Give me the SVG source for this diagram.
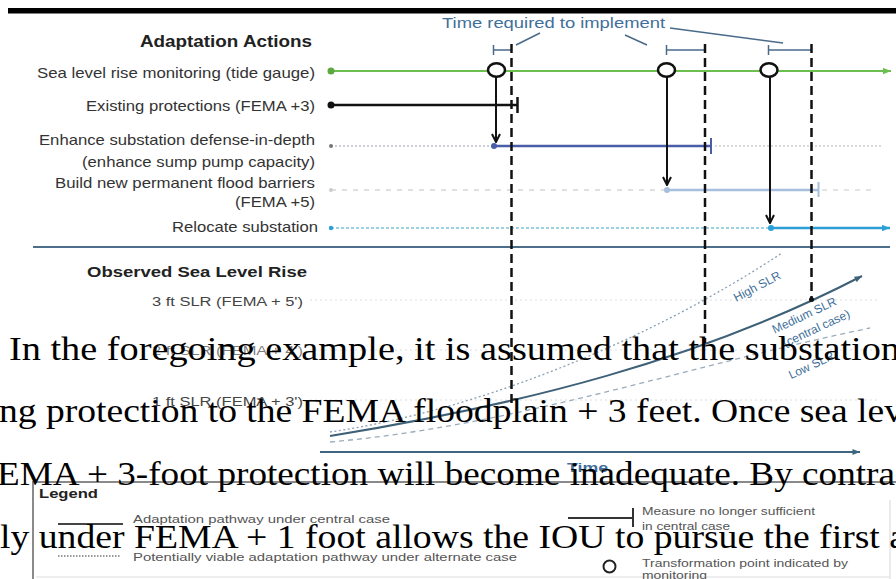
<svg xmlns="http://www.w3.org/2000/svg" width="896" height="579" viewBox="0 0 896 579">
<style>
.lbl{font-family:"Liberation Sans",Arial,sans-serif;font-size:15px;fill:#333}
.hd{font-family:"Liberation Sans",Arial,sans-serif;font-weight:bold;fill:#222}
.slr{font-family:"Liberation Sans",Arial,sans-serif;font-size:12.5px;fill:#444}
.blu{font-family:"Liberation Sans",Arial,sans-serif;fill:#3f6f9a}
.lg{font-family:"Liberation Sans",Arial,sans-serif;font-size:11px;fill:#555}
.body{font-family:"Liberation Serif","Times New Roman",serif;font-size:34px;fill:#000}
.vdash{stroke:#111;stroke-width:2.5;stroke-dasharray:9 5;fill:none}
.down{stroke:#111;stroke-width:2;fill:none}
.tp{fill:#fff;stroke:#111;stroke-width:2.5}
.brk{stroke:#4a6a8a;stroke-width:1.5;fill:none}
.guide{stroke:#ddd;stroke-width:1;stroke-dasharray:2 3}
</style>
<defs>
<marker id="chev" viewBox="0 0 10 10" refX="9" refY="5" markerWidth="10" markerHeight="10" markerUnits="userSpaceOnUse" orient="auto">
<path d="M1,1 L9,5 L1,9" fill="none" stroke="#111" stroke-width="2"/>
</marker>
<marker id="arGreen" viewBox="0 0 10 8" refX="10" refY="4" markerWidth="8" markerHeight="7" markerUnits="userSpaceOnUse" orient="auto">
<path d="M0,0 L10,4 L0,8 z" fill="#6cbf4e"/>
</marker>
<marker id="arCyan" viewBox="0 0 10 8" refX="10" refY="4" markerWidth="8" markerHeight="7" markerUnits="userSpaceOnUse" orient="auto">
<path d="M0,0 L10,4 L0,8 z" fill="#2b9fd6"/>
</marker>
<marker id="arAxis" viewBox="0 0 10 8" refX="10" refY="4" markerWidth="8" markerHeight="6" markerUnits="userSpaceOnUse" orient="auto">
<path d="M0,0 L10,4 L0,8 z" fill="#3f6480"/>
</marker>
<marker id="arMed" viewBox="0 0 10 8" refX="10" refY="4" markerWidth="8" markerHeight="6" markerUnits="userSpaceOnUse" orient="auto">
<path d="M0,0 L10,4 L0,8 z" fill="#3e6177"/>
</marker>
</defs>
<rect width="896" height="579" fill="#fff"/>
<rect x="8" y="8" width="888" height="5.5" fill="#000"/>

<g id="title-actions">
<text class="hd" x="140" y="46.5" font-size="16" textLength="172" lengthAdjust="spacingAndGlyphs">Adaptation Actions</text>
</g>

<g id="time-required">
<text class="blu" x="442" y="28" font-size="15" textLength="223" lengthAdjust="spacingAndGlyphs">Time required to implement</text>
<path class="brk" d="M540,33 L516,45 M625,35 L647,45 M670,28 L783,43"/>
<path class="brk" d="M493.5,50 H511.5 M493.5,45 V55 M666.5,50 H705 M666.5,45 V55 M768.5,50 H811.5 M768.5,45 V55"/>
</g>

<g id="row-monitoring">
<text class="lbl" x="37" y="77.5" textLength="278" lengthAdjust="spacingAndGlyphs">Sea level rise monitoring (tide gauge)</text>
<line x1="331" y1="71" x2="891" y2="71" stroke="#6cbf4e" stroke-width="2" marker-end="url(#arGreen)"/>
<circle cx="331" cy="71" r="3.5" fill="#5aa83e"/>
</g>

<g id="row-existing">
<text class="lbl" x="86" y="110.5" textLength="229" lengthAdjust="spacingAndGlyphs">Existing protections (FEMA +3)</text>
<line x1="331" y1="105" x2="517" y2="105" stroke="#111" stroke-width="2.5"/>
<line x1="517.5" y1="97" x2="517.5" y2="113" stroke="#111" stroke-width="2.5"/>
<circle cx="331" cy="105" r="3.5" fill="#111"/>
</g>

<g id="row-enhance">
<text class="lbl" x="39" y="145" textLength="276" lengthAdjust="spacingAndGlyphs">Enhance substation defense-in-depth</text>
<text class="lbl" x="82" y="166.5" textLength="233" lengthAdjust="spacingAndGlyphs">(enhance sump pump capacity)</text>
<line x1="331" y1="146" x2="493" y2="146" stroke="#9a9aa6" stroke-width="1.2" stroke-dasharray="2 2"/>
<line x1="715" y1="146" x2="883" y2="146" stroke="#b8b8c0" stroke-width="1.2" stroke-dasharray="2 2"/>
<line x1="493" y1="146" x2="711" y2="146" stroke="#4a5da8" stroke-width="2.5"/>
<line x1="711" y1="138" x2="711" y2="154" stroke="#4a5da8" stroke-width="2"/>
<circle cx="331" cy="146" r="2" fill="#777"/>
<circle cx="494" cy="146" r="3" fill="#4a5da8"/>
</g>

<g id="row-barriers">
<text class="lbl" x="55" y="188" textLength="260" lengthAdjust="spacingAndGlyphs">Build new permanent flood barriers</text>
<text class="lbl" x="235" y="207" textLength="80" lengthAdjust="spacingAndGlyphs">(FEMA +5)</text>
<line x1="331" y1="190" x2="666" y2="190" stroke="#d6d6d6" stroke-width="1.5" stroke-dasharray="5 6"/>
<line x1="822" y1="190" x2="877" y2="190" stroke="#dcdcdc" stroke-width="1.5" stroke-dasharray="5 6"/>
<line x1="666" y1="190" x2="818" y2="190" stroke="#a8bedd" stroke-width="2.5"/>
<line x1="818.5" y1="182" x2="818.5" y2="197" stroke="#a8bedd" stroke-width="2"/>
<circle cx="331" cy="190" r="2" fill="#ccc"/>
<circle cx="667" cy="190" r="3" fill="#a8bedd"/>
</g>

<g id="row-relocate">
<text class="lbl" x="172" y="232" textLength="146" lengthAdjust="spacingAndGlyphs">Relocate substation</text>
<line x1="331" y1="228" x2="770" y2="228" stroke="#7cc4dc" stroke-width="1.3" stroke-dasharray="3 2"/>
<line x1="770" y1="228" x2="890" y2="228" stroke="#2b9fd6" stroke-width="2.5" marker-end="url(#arCyan)"/>
<circle cx="331" cy="228" r="2.2" fill="#2b9fd6"/>
<circle cx="771" cy="228" r="3" fill="#2b9fd6"/>
</g>

<g id="separator">
<line x1="33" y1="247" x2="890" y2="247" stroke="#4d6f8c" stroke-width="1.8"/>
</g>

<g id="observed-slr">
<text class="hd" x="87" y="277" font-size="15" textLength="220" lengthAdjust="spacingAndGlyphs">Observed Sea Level Rise</text>
<text class="slr" x="152" y="306" textLength="151" lengthAdjust="spacingAndGlyphs">3 ft SLR (FEMA + 5')</text>
<text class="slr" x="152" y="355" textLength="151" lengthAdjust="spacingAndGlyphs" fill-opacity="0.7">2 ft SLR (FEMA + 4')</text>
<text class="slr" x="152" y="406" textLength="151" lengthAdjust="spacingAndGlyphs">1 ft SLR (FEMA + 3')</text>
<line class="guide" x1="310" y1="300" x2="880" y2="300"/>
<line class="guide" x1="310" y1="350" x2="880" y2="350"/>
<line class="guide" x1="310" y1="400" x2="880" y2="400"/>
</g>

<g id="slr-curves">
<path d="M330,432 C480,410 650,340 782,253" fill="none" stroke="#8aa0b5" stroke-width="1.3" stroke-dasharray="2 2.5"/>
<path d="M330,436 C520,405 700,360 862,276" fill="none" stroke="#3e6177" stroke-width="2" marker-end="url(#arMed)"/>
<path d="M330,442 C520,425 690,365 870,328" fill="none" stroke="#9aacbc" stroke-width="1.3" stroke-dasharray="5 4"/>
<text class="blu" font-size="12" transform="translate(759,290) rotate(-28)" text-anchor="middle">High SLR</text>
<text class="blu" font-size="12" transform="translate(806,319) rotate(-25)" text-anchor="middle">Medium SLR</text>
<text class="blu" font-size="12" transform="translate(818,332) rotate(-25)" text-anchor="middle">(central case)</text>
<text class="blu" font-size="12" transform="translate(813,369) rotate(-25)" text-anchor="middle">Low SLR</text>
</g>

<g id="time-axis">
<line x1="320" y1="452" x2="860" y2="452" stroke="#3f6480" stroke-width="2" marker-end="url(#arAxis)"/>
<text class="blu" x="567" y="472" font-size="13" font-weight="bold" textLength="41" lengthAdjust="spacingAndGlyphs">Time</text>
</g>

<g id="connectors">
<line class="vdash" x1="511.5" y1="44" x2="511.5" y2="403"/>
<line class="vdash" x1="705" y1="44" x2="705" y2="343"/>
<line class="vdash" x1="811.5" y1="44" x2="811.5" y2="299"/>
<circle cx="811.5" cy="299.5" r="2.5" fill="#111"/>
<line class="down" x1="496" y1="77" x2="496" y2="142" marker-end="url(#chev)"/>
<line class="down" x1="667" y1="77" x2="667" y2="185" marker-end="url(#chev)"/>
<line class="down" x1="770" y1="77" x2="770" y2="223" marker-end="url(#chev)"/>
</g>

<g id="tp-1"><ellipse class="tp" cx="496.5" cy="70" rx="8.5" ry="6.8"/></g>
<g id="tp-2"><ellipse class="tp" cx="666.5" cy="70" rx="8.5" ry="6.8"/></g>
<g id="tp-3"><ellipse class="tp" cx="769" cy="70" rx="8.5" ry="6.8"/></g>

<g id="legend">
<path d="M33,579 V482 H896" fill="none" stroke="#8a8a8a" stroke-width="2"/>
<line x1="890" y1="500" x2="890" y2="579" stroke="#e4e4e4" stroke-width="1.5"/>
<line x1="36" y1="577" x2="890" y2="577" stroke="#e8e8e8" stroke-width="1.5"/>
<text class="hd" x="39" y="498" font-size="12" fill="#555" textLength="59" lengthAdjust="spacingAndGlyphs">Legend</text>
<line x1="58" y1="524" x2="123" y2="524" stroke="#444" stroke-width="2"/>
<text class="lg" x="133" y="523" textLength="257" lengthAdjust="spacingAndGlyphs">Adaptation pathway under central case</text>
<line x1="58" y1="556" x2="120" y2="556" stroke="#777" stroke-width="1.5" stroke-dasharray="1.5 1.5"/>
<text class="lg" x="133" y="561" textLength="384" lengthAdjust="spacingAndGlyphs">Potentially viable adaptation pathway under alternate case</text>
<line x1="568" y1="518" x2="633" y2="518" stroke="#333" stroke-width="2"/>
<line x1="633" y1="508" x2="633" y2="527" stroke="#333" stroke-width="2"/>
<text class="lg" x="642" y="514.5" textLength="173" lengthAdjust="spacingAndGlyphs">Measure no longer sufficient</text>
<text class="lg" x="642" y="530" textLength="88" lengthAdjust="spacingAndGlyphs">in central case</text>
<circle cx="609.5" cy="566.5" r="6" fill="#fff" stroke="#222" stroke-width="2"/>
<text class="lg" x="642" y="567" textLength="206" lengthAdjust="spacingAndGlyphs">Transformation point indicated by</text>
<text class="lg" x="642" y="578.5" textLength="65" lengthAdjust="spacingAndGlyphs">monitoring</text>
</g>

<g id="page-text">
<text class="body" x="9" y="360" textLength="891" lengthAdjust="spacingAndGlyphs">In the foregoing example, it is assumed that the substation</text>
<text class="body" x="-1" y="422" textLength="904" lengthAdjust="spacingAndGlyphs">ng protection to the FEMA floodplain + 3 feet. Once sea lev</text>
<text class="body" x="-3" y="485" textLength="898" lengthAdjust="spacingAndGlyphs">EMA + 3-foot protection will become inadequate. By contra</text>
<text class="body" x="0" y="548" textLength="906" lengthAdjust="spacingAndGlyphs">ly under FEMA + 1 foot allows the IOU to pursue the first a</text>
</g>
</svg>
